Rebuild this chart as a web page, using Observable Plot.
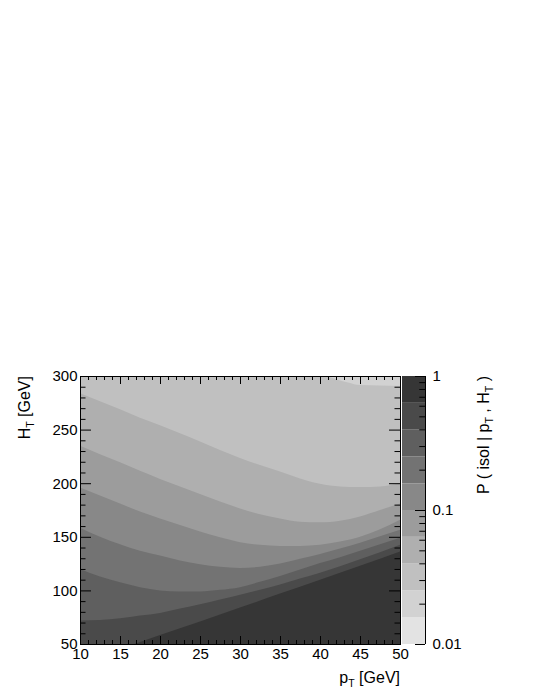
<!DOCTYPE html>
<html><head><meta charset="utf-8">
<script src="https://cdn.jsdelivr.net/npm/d3@7"></script>
<script src="https://cdn.jsdelivr.net/npm/@observablehq/plot@0.6"></script>
<style>
body{margin:0;background:#fff;}
#wrap{position:relative;width:540px;height:699px;}
#wrap svg{position:absolute;left:0;top:0;}
</style></head><body><div id="wrap"></div>
<script>
// ---- data: contour boundaries HT(pT) ----
const pT   = [10,12.5,15,17.5,20,22.5,25,27.5,30,32.5,35,37.5,40,42.5,45,47.5,50];
const htB1 = [284,276.5,269,261,254,246.5,239,231,223.5,217,211,204.5,199.5,197,196.5,197,200];
const htB2 = [235,227,219.5,211.5,204,197,190,183,176.5,171,167,164,163.5,165,169,175,181];
const htB3 = [196,188.5,181,173.5,167,161,155,149.5,145,142.5,141.5,141.5,142.5,145.5,150,157,166];
const htB4 = [158.5,150,143,137,132.5,128,124.5,122,121,122,125,129.5,134,139,144.5,150.5,156.5];
const htB5 = [120,113,107.5,103,100,99,99,100.5,103,108,113.5,119.5,125.5,131,137,143,149];
const htB6 = [72,72.5,74,76.5,79,83,87,91.5,96,100.5,105.5,111,116.5,122.5,129,135.5,142.5];
const pTB0 = [10,40.5,42,43.5,45,50];
const htB0 = [300,300,297,294,291.5,290.7];
const pTB7 = [16.8,20,25,30,35,40,45,50];
const htB7 = [50,58.5,71,84,97,110,123,136.3];

// colour bar: band edges (log scale) and colours, bottom to top
const cbEdges  = [0.01,0.0158,0.0251,0.0398,0.0631,0.1,0.158,0.251,0.398,0.631,1];
const cbColors = ["#e3e3e3","#d2d2d2","#c0c0c0","#afafaf","#9c9c9c","#888888","#737373","#5f5f5f","#4a4a4a","#363636"];
const cbTicks = [0.01,0.1,1];
const cbTickLabels = ["0.01","0.1","1"];
const cbMinor = [0.02,0.03,0.04,0.05,0.06,0.07,0.08,0.09,0.2,0.3,0.4,0.5,0.6,0.7,0.8,0.9];

const xTicks = [10,15,20,25,30,35,40,45,50];
const yTicks = [50,100,150,200,250,300];
const xMinor = d3.range(10,51,1).filter(v => v % 5 !== 0);
const yMinor = d3.range(50,301,10).filter(v => v % 50 !== 0);

// ---- build ----
const pts = (xs, ys) => xs.map((x,i) => ({x, y: ys[i]}));
const boundaries = [
  pts(pTB0, htB0), pts(pT, htB1), pts(pT, htB2), pts(pT, htB3),
  pts(pT, htB4), pts(pT, htB5), pts(pT, htB6), pts(pTB7, htB7)
];
// level k (0 lightest) uses colour bar band (9 - k)
const levelColor = k => cbColors[k + 1];

const W = 540, H = 699;
const mL = 80, mR = 140, mT = 376, mB = 55;
const pw = W - mL - mR, ph = H - mT - mB;
const font = "'Liberation Sans', Arial, Helvetica, sans-serif";

const marks = [Plot.frame({fill: levelColor(0), stroke: null})];
boundaries.forEach((b, k) => {
  marks.push(Plot.areaY(b, {x: "x", y1: 50, y2: "y", fill: levelColor(k + 1), curve: "monotone-x", clip: true}));
});
marks.push(
  Plot.tickX(xTicks, {x: d => d, insetTop: ph - 8, stroke: "black"}),
  Plot.tickX(xTicks, {x: d => d, insetBottom: ph - 8, stroke: "black"}),
  Plot.tickX(xMinor, {x: d => d, insetTop: ph - 4, stroke: "black"}),
  Plot.tickX(xMinor, {x: d => d, insetBottom: ph - 4, stroke: "black"}),
  Plot.tickY(yTicks, {y: d => d, insetRight: pw - 11, stroke: "black"}),
  Plot.tickY(yTicks, {y: d => d, insetLeft: pw - 11, stroke: "black"}),
  Plot.tickY(yMinor, {y: d => d, insetRight: pw - 5.5, stroke: "black"}),
  Plot.tickY(yMinor, {y: d => d, insetLeft: pw - 5.5, stroke: "black"}),
  Plot.frame({stroke: "black"}),
  Plot.axisX({ticks: xTicks, tickSize: 0, tickPadding: 4, label: null, fontSize: 15, fill: "black"}),
  Plot.axisY({ticks: yTicks, tickSize: 0, tickPadding: 3, label: null, fontSize: 15, fill: "black"})
);

const main = Plot.plot({
  width: W, height: H,
  marginLeft: mL, marginRight: mR, marginTop: mT, marginBottom: mB,
  x: {domain: [10, 50]},
  y: {domain: [50, 300]},
  style: {fontFamily: font, fontSize: "15px", background: "white", color: "black"},
  marks
});

const bands = cbColors.map((c, i) => ({lo: cbEdges[i], hi: cbEdges[i + 1], c}));
const cbL = 402, cbR = 425, cbw = cbR - cbL;
const cbar = Plot.plot({
  width: W, height: H,
  marginLeft: cbL, marginRight: W - cbR, marginTop: mT, marginBottom: mB,
  x: {domain: [0, 1], axis: null},
  y: {type: "log", domain: [0.01, 1], axis: null},
  style: {fontFamily: font, fontSize: "15px", background: "transparent", color: "black"},
  marks: [
    Plot.rect(bands, {x1: 0, x2: 1, y1: "lo", y2: "hi", fill: "c"}),
    Plot.ruleX([1], {stroke: "black"}),
    Plot.tickY(cbTicks, {y: d => d, insetLeft: cbw - 10, stroke: "black"}),
    Plot.tickY(cbMinor, {y: d => d, insetLeft: cbw - 5.7, stroke: "black"}),
    Plot.text(cbTicks, {y: d => d, x: 1, text: d => cbTickLabels[cbTicks.indexOf(d)], textAnchor: "start", dx: 7, fontSize: 15, fill: "black"})
  ]
});

const wrap = document.getElementById("wrap");
wrap.appendChild(main);
wrap.appendChild(cbar);

// axis titles with subscripts
function addTitle(svg, parts, x, y, rotate) {
  const t = d3.select(svg).append("text")
    .attr("font-family", font).attr("font-size", 16).attr("fill", "black")
    .attr("text-anchor", "end")
    .attr("transform", `translate(${x},${y})` + (rotate ? " rotate(-90)" : ""));
  let shift = 0;
  parts.forEach(p => {
    if (p.sub) {
      t.append("tspan").attr("font-size", 10.5).attr("dy", 3.5).text(p.sub);
      shift = -3.5;
    } else {
      const s = t.append("tspan").text(p.t);
      if (shift) { s.attr("dy", shift); shift = 0; }
    }
  });
}
addTitle(main, [{t: "H"}, {sub: "T"}, {t: " [GeV]"}], 30, 376, true);
addTitle(main, [{t: "p"}, {sub: "T"}, {t: " [GeV]"}], 400, 683, false);
addTitle(cbar, [{t: "P ( isol | p"}, {sub: "T"}, {t: " , H"}, {sub: "T"}, {t: " )"}], 489, 376, true);
</script></body></html>
